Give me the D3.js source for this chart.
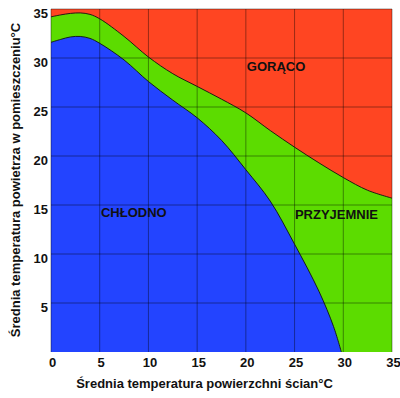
<!DOCTYPE html>
<html>
<head>
<meta charset="utf-8">
<script src="https://cdn.jsdelivr.net/npm/d3@7"></script>
<style>
  body { margin: 0; background: #fff; }
  svg text { font-family: "Liberation Sans", Arial, sans-serif; font-weight: bold; }
</style>
</head>
<body>
<div id="chart"></div>
<script>
const margin = ({top: 9, right: 8, bottom: 46, left: 51});
const width = 400 - margin.left - margin.right;
const height = 398 - margin.top - margin.bottom;

// boundary between GORĄCO and PRZYJEMNIE
const hotX = [0, 1, 2, 3, 4, 5, 7.5, 10, 12.5, 15, 17.5, 20, 22.5, 25, 27.5, 30, 32.5, 35];
const hotBoundary = [34.2, 34.4, 34.55, 34.6, 34.45, 34.0, 32.2, 30.1, 28.4, 27.1, 25.8, 24.4, 22.6, 20.9, 19.3, 17.8, 16.5, 15.7];

// boundary between PRZYJEMNIE and CHŁODNO
const coldX = [0, 1, 2, 3, 4, 5, 7.5, 10, 12.5, 15, 17.5, 20, 22.5, 25, 27.5, 29, 29.8];
const coldBoundary = [31.6, 31.9, 32.15, 32.2, 32.0, 31.5, 29.8, 27.6, 25.7, 23.9, 21.6, 18.6, 15.4, 11.0, 6.2, 2.6, 0];

const xTicks = [0, 5, 10, 15, 20, 25, 30, 35];
const yTicks = [5, 10, 15, 20, 25, 30, 35];

const zoneLabels = ['GORĄCO', 'CHŁODNO', 'PRZYJEMNIE'];
const zoneX = [23.1, 8.5, 29.3];
const zoneY = [28.7, 13.8, 13.6];

const colors = {hot: '#ff4522', ok: '#5cdc00', cold: '#2344ff'};

const x = d3.scaleLinear().domain([0, 35]).range([0, width]);
const y = d3.scaleLinear().domain([0, 35]).range([height, 0]);

const svg = d3.select('#chart').append('svg')
    .attr('width', 400)
    .attr('height', 398)
  .append('g')
    .attr('transform', 'translate(' + margin.left + ',' + margin.top + ')');

// hot background
svg.append('rect')
    .attr('width', width)
    .attr('height', height)
    .attr('fill', colors.hot);

const hotData = hotX.map((d, i) => [d, hotBoundary[i]]);
const coldData = coldX.map((d, i) => [d, coldBoundary[i]]);

const curve = d3.curveCatmullRom.alpha(0.5);

const area = d3.area()
    .x(d => x(d[0]))
    .y0(y(0))
    .y1(d => y(d[1]))
    .curve(curve);

const line = d3.line()
    .x(d => x(d[0]))
    .y(d => y(d[1]))
    .curve(curve);

svg.append('path').datum(hotData).attr('d', area).attr('fill', colors.ok);
svg.append('path').datum(coldData).attr('d', area).attr('fill', colors.cold);

// grid
svg.append('g').selectAll('line')
    .data(xTicks)
    .join('line')
    .attr('x1', d => x(d)).attr('x2', d => x(d))
    .attr('y1', 0).attr('y2', height)
    .attr('stroke', '#000').attr('stroke-opacity', 0.4).attr('stroke-width', 1);

svg.append('g').selectAll('line')
    .data(yTicks)
    .join('line')
    .attr('x1', 0).attr('x2', width)
    .attr('y1', d => y(d)).attr('y2', d => y(d))
    .attr('stroke', '#000').attr('stroke-opacity', 0.4).attr('stroke-width', 1);

svg.append('path').datum(hotData).attr('d', line)
    .attr('fill', 'none').attr('stroke', '#111').attr('stroke-width', 0.9);
svg.append('path').datum(coldData).attr('d', line)
    .attr('fill', 'none').attr('stroke', '#111').attr('stroke-width', 0.9);

// axes
const xAxis = d3.axisBottom(x).tickValues(xTicks).tickSize(0).tickPadding(6);
const yAxis = d3.axisLeft(y).tickValues(yTicks).tickSize(0).tickPadding(3);

const gx = svg.append('g')
    .attr('transform', 'translate(0,' + height + ')')
    .call(xAxis);
gx.select('.domain').remove();
gx.selectAll('text')
    .attr('dx', 1)
    .attr('font-size', 13)
    .attr('fill', '#111');

const gy = svg.append('g').call(yAxis);
gy.select('.domain').remove();
gy.selectAll('text')
    .attr('dy', '0.62em')
    .attr('font-size', 13)
    .attr('fill', '#111');

// zone labels
svg.append('g').selectAll('text')
    .data(zoneLabels)
    .join('text')
    .attr('x', (d, i) => x(zoneX[i]))
    .attr('y', (d, i) => y(zoneY[i]))
    .attr('text-anchor', 'middle')
    .attr('font-size', 13)
    .attr('fill', '#111')
    .text(d => d);

// titles
svg.append('text')
    .attr('x', width / 2 - 17)
    .attr('y', height + 36)
    .attr('text-anchor', 'middle')
    .attr('font-size', 13)
    .attr('fill', '#111')
    .text('Średnia temperatura powierzchni ścian°C');

svg.append('text')
    .attr('transform', 'translate(' + (20 - margin.left) + ',' + (180 - margin.top) + ') rotate(-90)')
    .attr('text-anchor', 'middle')
    .attr('font-size', 13)
    .attr('fill', '#111')
    .text('Średnia temperatura powietrza w pomieszczeniu°C');
</script>
</body>
</html>
